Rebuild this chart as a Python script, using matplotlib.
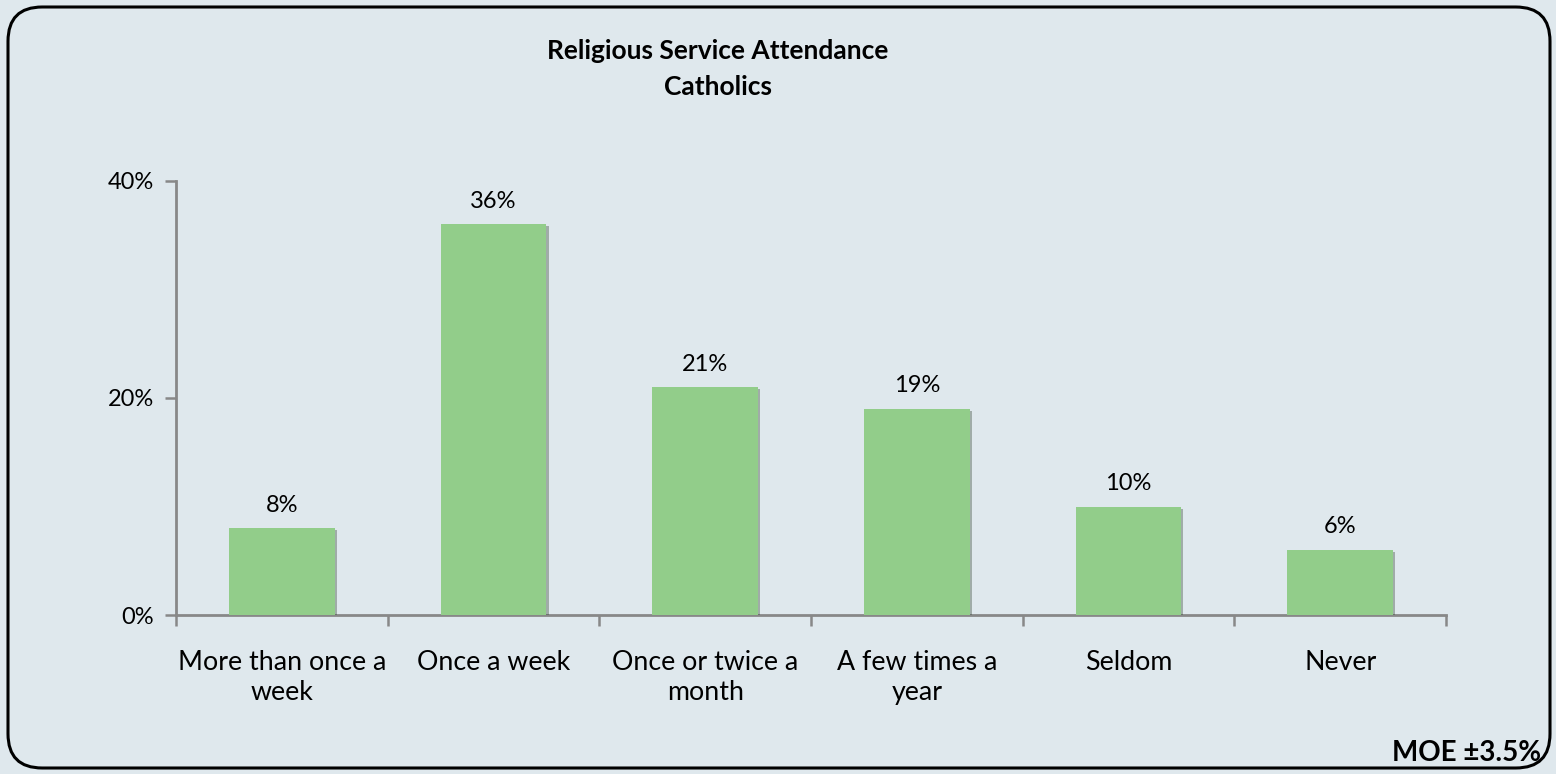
import matplotlib
matplotlib.use("Agg")
import matplotlib.pyplot as plt
from matplotlib.patches import FancyBboxPatch
import matplotlib.patheffects as pe
from matplotlib.ticker import FuncFormatter

categories = ["More than once a\nweek", "Once a week", "Once or twice a\nmonth",
              "A few times a\nyear", "Seldom", "Never"]
values = [8, 36, 21, 19, 10, 6]
yticks = [0, 20, 40]
title = "Religious Service Attendance\nCatholics"
note = "MOE \u00b13.5%"

bg = "#DFE8ED"
bar_color = "#92CD8A"
axis_color = "#888888"
font = ["Lato", "DejaVu Sans"]
plt.rcParams["font.family"] = font

W, H = 1556, 774
fig = plt.figure(figsize=(W / 100, H / 100), dpi=100)
fig.patch.set_facecolor(bg)

frame = FancyBboxPatch((8 / W, 6 / H), (1550 - 8) / W, (767 - 6) / H,
                       boxstyle="round,pad=0,rounding_size=0.022",
                       transform=fig.transFigure, facecolor="none",
                       edgecolor="black", linewidth=2.2, mutation_aspect=W / H,
                       zorder=-1)
fig.patches.append(frame)

left, right = 176 / W, 1446 / W
bottom, top = 1 - 615 / H, 1 - 181 / H
ax = fig.add_axes([left, bottom, right - left, top - bottom])
ax.set_facecolor("none")

x = list(range(len(categories)))
bars = ax.bar(x, values, width=0.5, color=bar_color, zorder=3,
              path_effects=[pe.SimplePatchShadow(offset=(1.5, -1.5), alpha=0.35),
                            pe.Normal()])
for xi, v in zip(x, values):
    ax.annotate(f"{v}%", (xi, v), xytext=(0, 9), textcoords="offset points",
                ha="center", va="bottom", fontsize=17, color="black")

ax.set_xlim(-0.5, len(categories) - 0.5)
ax.set_ylim(0, 40)
ax.set_yticks(yticks)
ax.yaxis.set_major_formatter(FuncFormatter(lambda v, p: f"{v:.0f}%"))
ax.set_xticks(x)
ax.set_xticklabels(categories, fontsize=19.3, linespacing=1.26)
ax.tick_params(axis="x", length=0, pad=25)
ax.set_xticks([i - 0.5 for i in range(len(categories) + 1)], minor=True)
ax.tick_params(axis="x", which="minor", length=8, width=1.8, color=axis_color, direction="out")
ax.tick_params(axis="y", length=8, width=1.8, color=axis_color, labelsize=17, pad=8)

for s in ["top", "right"]:
    ax.spines[s].set_visible(False)
for s in ["left", "bottom"]:
    ax.spines[s].set_color(axis_color)
    ax.spines[s].set_linewidth(2)

fig.text(718 / W, 1 - 69 / H, title, ha="center", va="center", fontsize=19,
         fontweight="bold", linespacing=1.6)
fig.text(1541 / W, 1 - 753 / H, note, ha="right", va="center", fontsize=20,
         fontweight="bold")

fig.savefig("out.png", dpi=100, facecolor=bg)
